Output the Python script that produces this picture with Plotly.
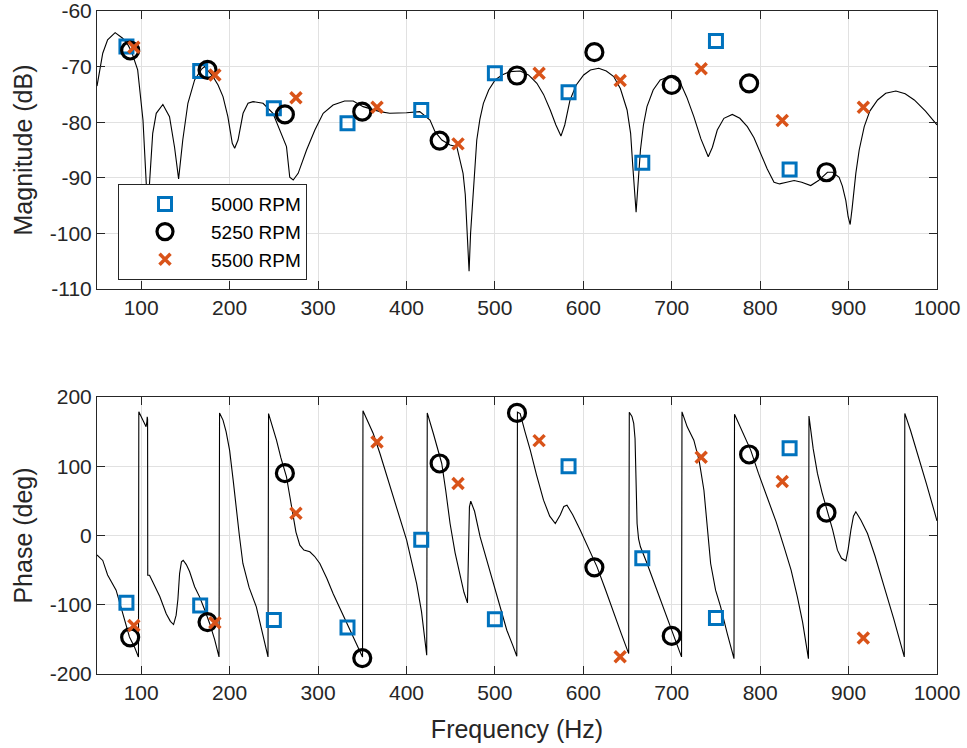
import plotly.graph_objects as go

# ---------------- data ----------------
freq_5000 = [83.3, 166.7, 250.0, 333.3, 416.7, 500.0, 583.3, 666.7, 750.0, 833.3]
freq_5250 = [87.5, 175.0, 262.5, 350.0, 437.5, 525.0, 612.5, 700.0, 787.5, 875.0]
freq_5500 = [91.7, 183.3, 275.0, 366.7, 458.3, 550.0, 641.7, 733.3, 825.0, 916.7]

mag_5000 = [-66.4, -70.8, -77.5, -80.2, -77.8, -71.2, -74.6, -87.3, -65.4, -88.5]
mag_5250 = [-67.1, -70.6, -78.6, -78.1, -83.3, -71.6, -67.4, -73.3, -73.0, -89.0]
mag_5500 = [-66.5, -71.5, -75.6, -77.3, -83.9, -71.2, -72.5, -70.4, -79.7, -77.3]

phase_5000 = [-97, -101, -122, -133, -6, -121, 100, -33, -119, 126]
phase_5250 = [-147, -125, 90, -177, 104, 177, -46, -145, 117, 33]
phase_5500 = [-130, -126, 32, 135, 75, 137, -175, 113, 78, -148]

curve_mag_f = [50, 56.5, 62, 70.5, 79, 85, 89, 96, 102, 105.7, 107.5, 109.4, 113, 117, 124.5, 132,
               137.7, 142.3, 147, 152.8, 160.4, 168, 171.7, 181.2, 186.9, 192.5, 198, 203, 205.7,
               209.5, 215.2, 220.8, 226.5, 237.8, 249, 256.7, 264.3, 268, 271.9, 277.5, 287, 296.4,
               305.8, 317, 330, 339.8, 351, 370, 381, 400, 415, 426.6, 432.3, 440, 449.3, 456.9,
               464, 466.5, 469, 470.8, 472.5, 474, 476.5, 479.5, 483, 487, 493, 500.3, 508, 517,
               528.6, 538, 547.5, 555, 562.6, 569, 574.7, 579, 585, 592, 600.4, 608, 617.4, 626,
               634.4, 642, 649.5, 653.5, 656, 658.5, 659.7, 661.5, 664.6, 668, 672, 679, 687,
               698.6, 710, 717, 725, 733, 741.3, 746, 751.5, 759, 768.5, 777, 785.5, 793, 800.6,
               808, 815.7, 822, 830, 838.4, 847, 857.2, 866, 876.1, 882, 889.3, 893, 896.9, 899.5,
               901.8, 904, 906, 908.2, 912, 917.7, 924, 932.8, 942, 953.5, 964, 974.3, 987, 1000]
curve_mag_db = [-73.5, -67.6, -65.2, -63.9, -64.9, -66.1, -67.3, -70.6, -79.6, -91, -103, -91, -82,
                -78.4, -76.8, -79, -84.5, -90.2, -83.2, -76.6, -72.4, -70.5, -70.0, -71.8, -73.3,
                -75.4, -79, -83.8, -84.7, -83.2, -78.4, -76.6, -76.3, -76.6, -78.4, -81.4, -84.4,
                -89.9, -90.4, -89.2, -85, -81.4, -78.4, -76.9, -76.2, -76.2, -77.2, -78.1, -78.4,
                -78.3, -78.1, -79.6, -81.7, -83.2, -84.1, -84.4, -89.2, -93, -100, -106.8, -100,
                -96, -89, -83.2, -79.5, -76.6, -74.2, -72.4, -71.5, -70.9, -70.8, -71.5, -73, -75,
                -77.8, -80.5, -82.5, -80.5, -76, -73.3, -71.5, -70.6, -70.3, -70.8, -71.8, -74,
                -77.8, -82, -88, -93, -96.2, -92, -85, -80.5, -77.2, -74.2, -72.4, -71.7, -73,
                -75.5, -79, -83, -86.2, -84.5, -81.4, -79.3, -78.6, -79.3, -80.8, -82.8, -85.6,
                -88.4, -90.8, -91.1, -90.8, -90.5, -90.8, -91.4, -90.5, -89, -89.0, -89.9, -91.5,
                -94.1, -97, -98.4, -95.5, -92, -89.2, -85, -80.8, -78, -76, -74.8, -74.4, -74.9,
                -76, -78, -80.5]

curve_ph_f = [50, 56.5, 62, 71.6, 79.2, 86.7, 92.4, 96.9, 97.3, 100, 103.7, 105.5, 106.5, 106.8,
              107.2, 107.4, 109.4, 113.1, 117, 121, 128.3, 133, 136.6, 139.5, 141.5, 143.4, 145.5,
              147.5, 151, 154.7, 160.4, 166, 172, 177.4, 183, 188, 188.6, 192.5, 196, 200, 204,
              207.6, 211, 215, 222, 230.2, 237, 243.4, 244, 253, 258, 264.3, 268, 271.8, 275,
              279.4, 284, 290.7, 296, 302, 310, 317.1, 327, 336, 343, 350.3, 350.8, 356, 362.4,
              370, 381.3, 390, 400.2, 411.5, 417, 422.9, 423.5, 430.4, 439.9, 444.4, 449.3, 455,
              460.6, 465, 469, 470.2, 471.2, 472.7, 477, 483.3, 490, 498.4, 506, 513.5, 520,
              524.8, 525.5, 528.6, 534, 540, 547, 555, 562, 568.3, 574, 578, 581.5, 588, 596.6,
              606, 615.5, 625, 634.4, 643, 651.3, 652, 655, 657, 658.5, 659.5, 660.8, 662.5,
              664.6, 672, 683.4, 693, 703, 708, 711.1, 711.6, 717.5, 725, 731, 736.4, 740, 744,
              749.6, 755.3, 762.8, 770.4, 771, 780, 789.3, 798, 808.1, 818, 827, 835, 842.1, 848,
              854.6, 855.2, 860, 864.8, 870, 876.1, 882, 887.4, 892, 896.9, 899.5, 902.6, 905.5,
              908.2, 914, 921.4, 930, 940.3, 951, 963, 963.6, 970, 978.1, 988, 1000]
curve_ph_deg = [-28, -36, -57, -79, -112.7, -146.6, -161, -175.6, 178.6, 171.4, 159.4, 157, 165,
                171.4, 168, -57.4, -57.4, -67, -77, -88, -113, -124, -128.6, -115, -92, -55, -38,
                -35.7, -42, -52, -74, -88.6, -108, -127, -150, -175.4, 177, 166.6, 150, 123, 80,
                36.5, 0, -40.4, -75, -103, -140, -175.4, 176, 137.7, 112, 84.7, 57, 27, 5, -14,
                -21, -23.6, -30, -40.4, -62, -84, -112, -137, -155, -175.4, 180, 165, 147.3,
                118.4, 70.3, 33, -6.8, -69.4, -110, -173, 177, 147.3, 104, 65, 17.3, -25, -59.8,
                -82, -97.4, -40, 41.4, 49.5, 35, -2, -32, -69.4, -103, -136.8, -158, -174.4, 178,
                176, 150, 123.3, 88, 51, 28, 17.3, 30, 42, 43.8, 30, 7.7, -18, -45.3, -78,
                -112.8, -142, -170.5, 178, 172, 161.8, 140, 80, 17.3, -5, -16.3, -40, -79, -112,
                -146, -163, -175.3, 178.6, 156.9, 137.7, 108, 65.4, 15, -40.4, -79, -103, -141.6,
                -177.8, 175, 150, 123.3, 90, 55.8, 20, -16.4, -50, -88.6, -125, -177.8, 172.4,
                125, 89.6, 62, 34.2, 8, -21.2, -33, -36.6, -20, 7.7, 28, 34.2, 22, 2.8, -30,
                -74.1, -120, -175.3, 176.3, 152, 118.4, 75, 21.1]

series_names = ["5000 RPM", "5250 RPM", "5500 RPM"]
x_ticks = [100, 200, 300, 400, 500, 600, 700, 800, 900, 1000]
mag_ticks = [-110, -100, -90, -80, -70, -60]
mag_tick_text = ["-110", "-100", "-90", "-80", "-70", "-60"]
phase_ticks = [-200, -100, 0, 100, 200]
phase_tick_text = ["-200", "-100", "0", "100", "200"]

# ---------------- styles ----------------
BLUE = "#0072BD"
ORANGE = "#D95319"
AXC = "#262626"
FONT = "Liberation Sans"

fig = go.Figure()

fig.add_trace(go.Scatter(x=curve_mag_f, y=curve_mag_db, mode="lines",
                         line=dict(color="black", width=1.1), showlegend=False,
                         xaxis="x", yaxis="y", hoverinfo="skip"))
fig.add_trace(go.Scatter(x=curve_ph_f, y=curve_ph_deg, mode="lines",
                         line=dict(color="black", width=1.1), showlegend=False,
                         xaxis="x2", yaxis="y2", hoverinfo="skip"))

marker_styles = [
    dict(symbol="square-open", size=13, color=BLUE, line=dict(width=3, color=BLUE)),
    dict(symbol="circle-open", size=17, color="black", line=dict(width=3.2, color="black")),
    dict(symbol="x-thin-open", size=11, color=ORANGE, line=dict(width=3.5, color=ORANGE)),
]
freqs = [freq_5000, freq_5250, freq_5500]
mags = [mag_5000, mag_5250, mag_5500]
phases = [phase_5000, phase_5250, phase_5500]

for i in range(3):
    fig.add_trace(go.Scatter(x=freqs[i], y=mags[i], mode="markers", marker=marker_styles[i],
                             name=series_names[i], xaxis="x", yaxis="y"))
    fig.add_trace(go.Scatter(x=freqs[i], y=phases[i], mode="markers", marker=marker_styles[i],
                             name=series_names[i], showlegend=False,
                             xaxis="x2", yaxis="y2"))

axis_common = dict(showline=True, linecolor=AXC, linewidth=1, mirror="ticks",
                   ticks="inside", ticklen=8, tickcolor=AXC, tickwidth=1, automargin=False,
                   ticklabeloverflow="allow",
                   showgrid=True, gridcolor="#e1e1e1", gridwidth=1, zeroline=False,
                   tickfont=dict(family=FONT, size=21, color=AXC))
title_font = dict(family=FONT, size=25, color=AXC)

fig.update_layout(
    width=967, height=748,
    margin=dict(l=97, r=30, t=11, b=74),
    paper_bgcolor="white", plot_bgcolor="white",
    font=dict(family=FONT, size=21, color=AXC),
    xaxis=dict(axis_common, range=[50, 1000], tickvals=x_ticks, anchor="y", domain=[0, 1]),
    yaxis=dict(axis_common, range=[-110, -60], tickvals=mag_ticks, ticktext=mag_tick_text,
               anchor="x", domain=[0.5807, 1],
               title=dict(text="Magnitude (dB)", font=title_font, standoff=10)),
    xaxis2=dict(axis_common, range=[50, 1000], tickvals=x_ticks, anchor="y2", domain=[0, 1],
                title=dict(text="Frequency (Hz)", font=title_font, standoff=17)),
    yaxis2=dict(axis_common, range=[-200, 200], tickvals=phase_ticks, ticktext=phase_tick_text,
                anchor="x2", domain=[0, 0.4178],
                title=dict(text="Phase (deg)", font=title_font, standoff=10)),
    legend=dict(x=0.025, y=0.739, xanchor="left", yanchor="top",
                bgcolor="white", bordercolor=AXC, borderwidth=1,
                font=dict(family=FONT, size=19, color="black"),
                itemwidth=82, tracegroupgap=0),
    showlegend=True,
)

fig.write_html("out.html", config={"displayModeBar": False},
               post_script="document.body.style.margin='0';")
